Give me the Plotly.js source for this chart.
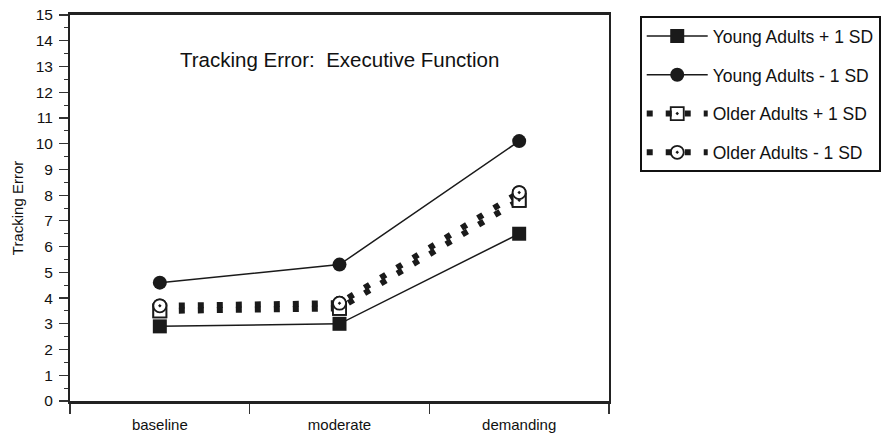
<!DOCTYPE html>
<html>
<head>
<meta charset="utf-8">
<script src="https://cdn.plot.ly/plotly-3.0.1.min.js"></script>
<style>html,body{margin:0;padding:0;background:#fff;}#chart{width:888px;height:441px;}</style>
</head>
<body>
<div id="chart"></div>
<script>
const categories = ["baseline", "moderate", "demanding"];
const seriesNames = ["Young Adults + 1 SD", "Young Adults - 1 SD", "Older Adults + 1 SD", "Older Adults - 1 SD"];
const youngPlus = [2.9, 3.0, 6.5];
const youngMinus = [4.6, 5.3, 10.1];
const olderPlus = [3.5, 3.6, 7.8];
const olderMinus = [3.7, 3.8, 8.1];
const yTicks = [0,1,2,3,4,5,6,7,8,9,10,11,12,13,14,15];
const chartTitle = "Tracking Error:\u00a0\u00a0Executive Function";
const yTitle = "Tracking Error";

const font = "Liberation Sans, Arial, sans-serif";
const ink = "#1a1a1a";

function young(name, y, symbol, rank) {
  return {
    type: "scatter", mode: "lines+markers", name: name, x: categories, y: y,
    legendgroup: name, legendrank: rank,
    line: {color: ink, width: 1.5},
    marker: {symbol: symbol, size: 14, color: ink, line: {width: 0}}
  };
}
function older(name, y, symbol, rank) {
  return {
    type: "scatter", mode: "lines+markers", name: name, x: categories, y: y,
    legendgroup: name, legendrank: rank,
    line: {color: ink, width: 6, dash: "6px,13px"},
    marker: {symbol: symbol + "-open-dot", size: 13, color: ink, line: {width: 1.8}}
  };
}
function fill(y, symbol) {
  return {
    type: "scatter", mode: "markers", x: categories, y: y, showlegend: false, hoverinfo: "skip",
    marker: {symbol: symbol, size: 13, color: "#fff", line: {width: 0}}
  };
}
function outline(y, symbol) {
  return {
    type: "scatter", mode: "markers", x: categories, y: y, showlegend: false, hoverinfo: "skip",
    marker: {symbol: symbol + "-open-dot", size: 13, color: ink, line: {width: 1.8}}
  };
}

const data = [
  young(seriesNames[0], youngPlus, "square", 1),
  young(seriesNames[1], youngMinus, "circle", 2),
  older(seriesNames[2], olderPlus, "square", 3),
  older(seriesNames[3], olderMinus, "circle", 4),
  fill(olderPlus, "square"),
  outline(olderPlus, "square"),
  fill(olderMinus, "circle"),
  outline(olderMinus, "circle")
];

const layout = {
  width: 888, height: 441,
  margin: {l: 70, r: 279, t: 15, b: 40, autoexpand: false},
  paper_bgcolor: "#fff", plot_bgcolor: "#fff",
  font: {family: font, color: "#111", size: 15},
  showlegend: true,
  legend: {
    x: 1.057, y: 0.997, xanchor: "left", yanchor: "top",
    bordercolor: "#111", borderwidth: 2, bgcolor: "#fff",
    font: {family: font, size: 17.5, color: "#111"},
    traceorder: "grouped", tracegroupgap: 13, itemwidth: 61,
    orientation: "v"
  },
  xaxis: {
    type: "category", categoryorder: "array", categoryarray: categories,
    range: [-0.5, 2.5], tickson: "boundaries", ticks: "outside", ticklen: 10,
    tickcolor: "#333", tickwidth: 1.5, ticklabelstandoff: 8,
    showline: true, linecolor: "#222", linewidth: 3, mirror: true,
    showgrid: false, zeroline: false,
    tickfont: {family: font, size: 15, color: "#111"}
  },
  yaxis: {
    range: [0, 15], tickvals: yTicks, ticks: "outside", ticklen: 9,
    tickcolor: "#333", tickwidth: 1.2, ticklabelstandoff: 3,
    minor: {dtick: 0.5, ticks: "outside", ticklen: 4, tickcolor: "#333", tickwidth: 1, showgrid: false},
    showline: true, linecolor: "#222", linewidth: 2, mirror: true,
    showgrid: false, zeroline: false,
    tickfont: {family: font, size: 15.5, color: "#111"},
    title: {text: yTitle, font: {family: font, size: 15, color: "#111"}, standoff: 8}
  },
  annotations: [{
    text: chartTitle, xref: "paper", yref: "paper", x: 0.5, y: 0.885,
    xanchor: "center", yanchor: "middle", showarrow: false,
    font: {family: font, size: 20.5, color: "#111"}
  }]
};

Plotly.newPlot("chart", data, layout, {displayModeBar: false, staticPlot: true});
</script>
</body>
</html>
